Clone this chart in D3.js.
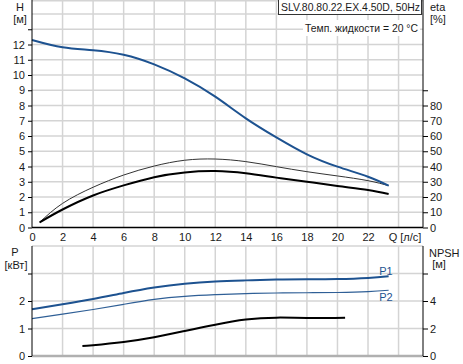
<!DOCTYPE html>
<html>
<head>
  <meta charset="utf-8">
  <script src="https://d3js.org/d3.v7.min.js"></script>
  <style>
    body { margin: 0; background: #fff; }
    svg { font-family: "Liberation Sans", Arial, sans-serif; font-size: 11px; }
    .grid line { stroke: #d4d4d4; stroke-width: 1.5; }
    .axis text { fill: #1a1a1a; font-size: 11px; }
    .axis path, .axis line { stroke: #000; }
  </style>
</head>
<body>
<div id="chart"></div>
<script>
// flow values (л/с)
const qHead = [0, 2, 4, 6, 8, 10, 12, 14, 16, 18, 20, 22, 23.35];
const head = [12.3, 11.82, 11.63, 11.33, 10.7, 9.78, 8.58, 7.16, 5.91, 4.8, 3.99, 3.33, 2.74];

const qEta = [0.5, 2, 4, 6, 8, 10, 12, 14, 16, 18, 20, 22, 23.35];
const etaTotal = [3.4, 11.8, 21.0, 27.6, 33.0, 36.1, 37.0, 35.5, 32.7, 30.0, 27.2, 24.6, 22.0];
const etaHydr = [3.4, 15.8, 26.4, 34.4, 40.3, 44.1, 44.9, 43.2, 39.9, 36.6, 33.8, 30.7, 27.4];

const qPower = [0, 2, 4, 6, 8, 10, 12, 14, 16, 18, 20, 22, 23.35];
const p1 = [1.70, 1.88, 2.07, 2.29, 2.49, 2.63, 2.71, 2.75, 2.78, 2.79, 2.80, 2.84, 2.90];
const p2 = [1.36, 1.52, 1.69, 1.88, 2.06, 2.17, 2.23, 2.27, 2.29, 2.30, 2.31, 2.34, 2.39];

const qNpsh = [3.3, 4, 6, 8, 10, 12, 14, 16, 18, 20.5];
const npsh = [0.73, 0.79, 1.02, 1.36, 1.82, 2.28, 2.65, 2.79, 2.77, 2.79];

const qTicks = [0, 2, 4, 6, 8, 10, 12, 14, 16, 18, 20, 22];
const qGrid = [2, 4, 6, 8, 10, 12, 14, 16, 18, 20, 22, 24];
const hTicks = [0, 1, 2, 3, 4, 5, 6, 7, 8, 9, 10, 11, 12, 13];
const etaTicks = [0, 10, 20, 30, 40, 50, 60, 70, 80, 90];
const pTicks = [0, 1, 2, 3];
const npshTicks = [0, 2, 4, 6];

const W = 463, H = 364;
const x0 = 32, x1 = 423;
const topY0 = 227.5, botY0 = 356, botY1 = 246;

const svg = d3.select("#chart").append("svg")
  .attr("width", W).attr("height", H);

const x = d3.scaleLinear().domain([0, 25.6]).range([x0, x1]);
const yH = d3.scaleLinear().domain([0, 15]).range([topY0, -1.25]);
const yEta = d3.scaleLinear().domain([0, 150]).range([topY0, -1.25]);
const yP = d3.scaleLinear().domain([0, 4]).range([botY0, botY1]);
const yN = d3.scaleLinear().domain([0, 8]).range([botY0, botY1]);

// ---- top chart grid
const gTop = svg.append("g").attr("class", "grid");
gTop.selectAll("line.v").data(qGrid).enter().append("line")
  .attr("x1", d => x(d)).attr("x2", d => x(d))
  .attr("y1", 0).attr("y2", topY0);
gTop.selectAll("line.h").data(d3.range(1, 16)).enter().append("line")
  .attr("x1", x0).attr("x2", x1)
  .attr("y1", d => Math.max(0.75, yH(d))).attr("y2", d => Math.max(0.75, yH(d)));

// ---- bottom chart grid
const gBot = svg.append("g").attr("class", "grid");
gBot.selectAll("line.v").data(qGrid).enter().append("line")
  .attr("x1", d => x(d)).attr("x2", d => x(d))
  .attr("y1", botY1).attr("y2", botY0);
gBot.selectAll("line.h").data([1, 2, 3, 4]).enter().append("line")
  .attr("x1", x0).attr("x2", x1)
  .attr("y1", d => yP(d)).attr("y2", d => yP(d));
svg.append("line").attr("x1", x0).attr("x2", x1).attr("y1", botY0).attr("y2", botY0)
  .attr("stroke", "#b0b0b0").attr("stroke-width", 2.5);

// ---- curves
const line = (xs, ys, ysc) => d3.line()
  .x((d, i) => x(xs[i])).y((d, i) => ysc(ys[i]))
  .curve(d3.curveNatural)(ys);

svg.append("path").attr("d", line(qEta, etaHydr, yEta))
  .attr("fill", "none").attr("stroke", "#333").attr("stroke-width", 1);
svg.append("path").attr("d", line(qEta, etaTotal, yEta))
  .attr("fill", "none").attr("stroke", "#000").attr("stroke-width", 2);
svg.append("path").attr("d", line(qHead, head, yH))
  .attr("fill", "none").attr("stroke", "#1d5290").attr("stroke-width", 2);

svg.append("path").attr("d", line(qPower, p2, yP))
  .attr("fill", "none").attr("stroke", "#2f5f96").attr("stroke-width", 1.2);
svg.append("path").attr("d", line(qPower, p1, yP))
  .attr("fill", "none").attr("stroke", "#1d5290").attr("stroke-width", 2);
svg.append("path").attr("d", line(qNpsh, npsh, yN))
  .attr("fill", "none").attr("stroke", "#000").attr("stroke-width", 2);

// ---- axes, top chart
svg.append("g").attr("class", "axis")
  .attr("transform", "translate(" + x0 + ",0)")
  .call(d3.axisLeft(yH).tickValues(hTicks).tickSize(4).tickPadding(3)
    .tickFormat(d => d <= 12 ? d : ""))
  .call(g => g.select(".domain").remove());
svg.append("line").attr("x1", x0).attr("x2", x0).attr("y1", 0).attr("y2", topY0).attr("stroke", "#000");

svg.append("g").attr("class", "axis")
  .attr("transform", "translate(" + x1 + ",0)")
  .call(d3.axisRight(yEta).tickValues(etaTicks).tickSize(5).tickPadding(2)
    .tickFormat(d => d <= 80 ? d : ""))
  .call(g => g.select(".domain").remove());
svg.append("line").attr("x1", x1).attr("x2", x1).attr("y1", 0).attr("y2", topY0).attr("stroke", "#000");

svg.append("g").attr("class", "axis")
  .attr("transform", "translate(0," + topY0 + ")")
  .call(d3.axisBottom(x).tickValues(qTicks).tickSize(0).tickPadding(6))
  .call(g => g.select(".domain").remove());
svg.append("line").attr("x1", x0).attr("x2", x1).attr("y1", topY0).attr("y2", topY0)
  .attr("stroke", "#000").attr("stroke-width", 1.5);

svg.append("text").attr("x", 405).attr("y", 241).attr("text-anchor", "middle")
  .attr("fill", "#1a1a1a").text("Q [л/с]");

// ---- axes, bottom chart
svg.append("g").attr("class", "axis")
  .attr("transform", "translate(" + x0 + ",0)")
  .call(d3.axisLeft(yP).tickValues(pTicks).tickSize(4).tickPadding(3)
    .tickFormat(d => d <= 2 ? d : ""))
  .call(g => g.select(".domain").remove());
svg.append("line").attr("x1", x0).attr("x2", x0).attr("y1", botY1).attr("y2", botY0).attr("stroke", "#000");

svg.append("g").attr("class", "axis")
  .attr("transform", "translate(" + x1 + ",0)")
  .call(d3.axisRight(yN).tickValues(npshTicks).tickSize(5).tickPadding(2)
    .tickFormat(d => d <= 4 ? d : ""))
  .call(g => g.select(".domain").remove());
svg.append("line").attr("x1", x1).attr("x2", x1).attr("y1", botY1).attr("y2", botY0).attr("stroke", "#000");

// ---- axis titles
const title = (tx, ty, t, anchor) => svg.append("text").attr("x", tx).attr("y", ty)
  .attr("text-anchor", anchor || "middle").attr("fill", "#1a1a1a").text(t);
title(20, 11, "H");
title(20, 23, "[м]");
title(430, 11, "eta", "start");
title(430, 23, "[%]", "start");
title(15, 256, "P");
title(16, 269, "[кВт]");
title(429, 257, "NPSH", "start");
title(439, 268, "[м]");

svg.append("text").attr("x", 386).attr("y", 275).attr("text-anchor", "middle")
  .attr("fill", "#1d5290").text("P1");
svg.append("text").attr("x", 386).attr("y", 301).attr("text-anchor", "middle")
  .attr("fill", "#1d5290").text("P2");

// ---- info boxes
svg.append("rect").attr("x", 303).attr("y", 20).attr("width", 117).attr("height", 16).attr("fill", "#fff");
svg.append("text").attr("x", 305).attr("y", 32)
  .attr("textLength", 113).attr("lengthAdjust", "spacingAndGlyphs")
  .attr("fill", "#1a1a1a").text("Темп. жидкости = 20 °C");

svg.append("rect").attr("x", 278.5).attr("y", -1).attr("width", 143).attr("height", 15.5)
  .attr("fill", "#fff").attr("stroke", "#333");
svg.append("text").attr("x", 281).attr("y", 11)
  .attr("textLength", 139).attr("lengthAdjust", "spacingAndGlyphs")
  .attr("fill", "#1a1a1a").text("SLV.80.80.22.EX.4.50D, 50Hz");
</script>
</body>
</html>
